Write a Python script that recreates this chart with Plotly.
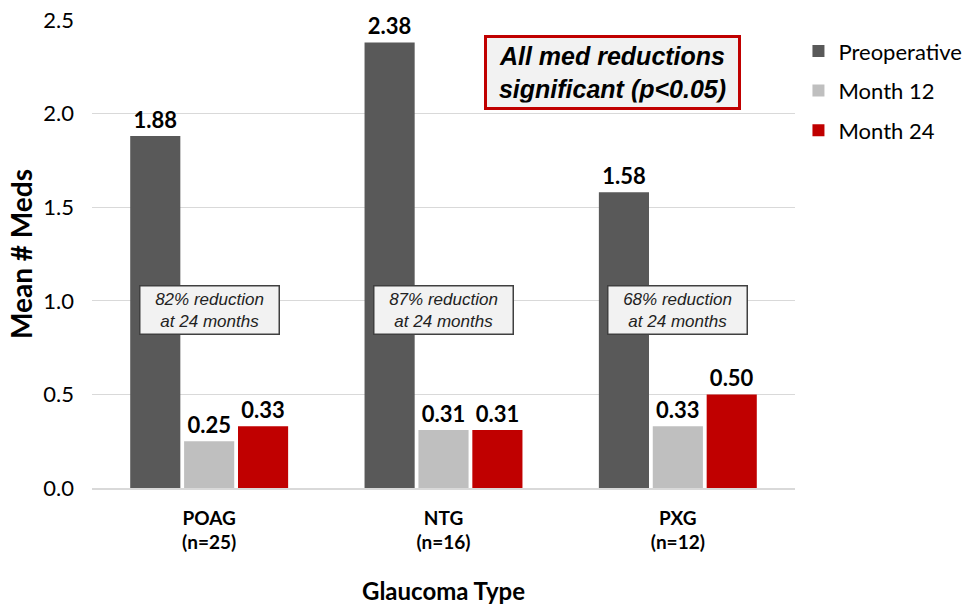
import plotly.graph_objects as go

categories = ["POAG<br>(n=25)", "NTG<br>(n=16)", "PXG<br>(n=12)"]
series_names = ["Preoperative", "Month 12", "Month 24"]
preop = [1.88, 2.38, 1.58]
month12 = [0.25, 0.31, 0.33]
month24 = [0.33, 0.31, 0.50]
reductions = ["82% reduction<br>at 24 months", "87% reduction<br>at 24 months", "68% reduction<br>at 24 months"]
colors = ["#595959", "#bfbfbf", "#c00000"]

BASE_FONT = "Lato, Open Sans, sans-serif"
ARIAL = "Liberation Sans, Arial, sans-serif"

fig = go.Figure()
for name, vals, col in zip(series_names, [preop, month12, month24], colors):
    fig.add_trace(go.Bar(
        x=categories, y=vals, name=name, legendgroup=name,
        marker=dict(color=col, line=dict(width=0)),
        text=[f"{v:.2f}" for v in vals], textposition="outside",
        textfont=dict(family=BASE_FONT, size=22, color="black", weight="bold"),
        cliponaxis=False,
    ))

# reduction callouts over each group
for cat, txt in zip(categories, reductions):
    fig.add_annotation(
        x=cat, y=0.95, xref="x", yref="y", text=f"<i>{txt}</i>", showarrow=False,
        font=dict(family=ARIAL, size=17, color="#222222"),
        bgcolor="#f2f2f2", bordercolor="#404040", borderwidth=1.5, borderpad=3,
        width=132, align="center", xanchor="center", yanchor="middle",
    )

fig.add_annotation(
    x=0.74, y=2.22, xref="paper", yref="y", xanchor="center", yanchor="middle",
    text="<b><i>All med reductions<br>significant (p<0.05)</i></b>", showarrow=False,
    font=dict(family=ARIAL, size=25, color="black"),
    bgcolor="#f2f2f2", bordercolor="#c00000", borderwidth=3, borderpad=4,
    width=243, align="center",
)

# x-axis title
fig.add_annotation(
    x=0.5, y=-0.218, xref="paper", yref="paper", xanchor="center", yanchor="middle",
    text="<b>Glaucoma Type</b>", showarrow=False,
    font=dict(family=BASE_FONT, size=24, color="black"),
)

fig.update_layout(
    width=969, height=604,
    margin=dict(l=92, r=174, t=20, b=116, autoexpand=False),
    paper_bgcolor="white", plot_bgcolor="white",
    barmode="group", bargap=0.31, bargroupgap=0.07,
    font=dict(family=BASE_FONT, color="black"),
    showlegend=True,
    legend=dict(xref="container", yref="container", x=0.824, y=0.95,
                xanchor="left", yanchor="top",
                font=dict(size=22, color="black"), tracegroupgap=8,
                itemwidth=30),
)
fig.update_xaxes(
    tickfont=dict(size=19, weight="bold", color="black"),
    showline=True, linecolor="#d9d9d9", linewidth=1.5,
    ticks="", showgrid=False, ticklabelstandoff=12, automargin=False,
)
fig.update_yaxes(
    range=[0, 2.5], dtick=0.5, tickformat=".1f",
    tickfont=dict(size=22, color="black"),
    showgrid=True, gridcolor="#d9d9d9", gridwidth=1,
    zeroline=False, showline=False, ticks="",
    ticklabelstandoff=17, automargin=False,
    title=dict(text="<b>Mean # Meds</b>", font=dict(size=28), standoff=2),
)

fig.write_html("out.html")
